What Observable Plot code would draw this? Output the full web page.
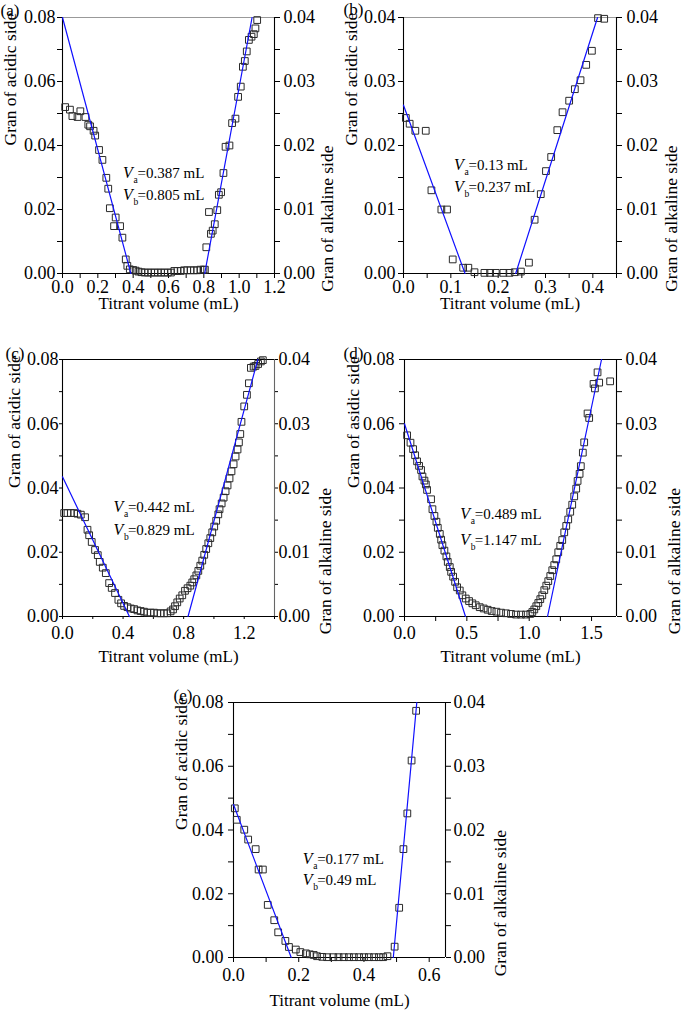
<!DOCTYPE html>
<html>
<head>
<meta charset="utf-8">
<script src="https://cdn.jsdelivr.net/npm/d3@7"></script>
<script src="https://cdn.jsdelivr.net/npm/@observablehq/plot@0.6"></script>
<style>
  html, body { margin: 0; padding: 0; background: #fff; }
  body { width: 685px; height: 1010px; position: relative; overflow: hidden; font-family: "Liberation Serif", "Times New Roman", serif; }
  .panel { position: absolute; }
  .panel svg { max-width: none !important; }
</style>
</head>
<body>
<div id="pa" class="panel" style="left:0px;top:0px"></div>
<div id="pb" class="panel" style="left:340px;top:0px"></div>
<div id="pc" class="panel" style="left:0px;top:340px"></div>
<div id="pd" class="panel" style="left:340px;top:340px"></div>
<div id="pe" class="panel" style="left:170px;top:680px"></div>
<script>
// ---------------- DATA (titrant volume mL, Gran function) ----------------
// Acidic-side points are in left-axis units; alkaline-side points are in right-axis units.
const aAcid = [[0.015,0.0520],[0.042,0.0512],[0.056,0.0492],[0.085,0.0489],[0.101,0.0507],[0.130,0.0489],[0.146,0.0465],[0.156,0.0460],[0.176,0.0446],[0.185,0.0431],[0.207,0.0386],[0.226,0.0355],[0.248,0.0299],[0.259,0.0265],[0.268,0.0204],[0.301,0.0175],[0.292,0.0148],[0.326,0.0148],[0.339,0.0112],[0.358,0.0044],[0.367,0.0024],[0.381,0.0013],[0.400,0.0011],[0.414,0.0009],[0.430,0.0006],[0.447,0.0004],[0.465,0.0003],[0.484,0.0003],[0.502,0.0003],[0.521,0.0003],[0.540,0.0003],[0.558,0.0003],[0.577,0.0003],[0.596,0.0003],[0.614,0.0003]];
const aAlk = [[0.633,0.0004],[0.651,0.0004],[0.669,0.0004],[0.688,0.0005],[0.706,0.0005],[0.725,0.0005],[0.744,0.0005],[0.762,0.0005],[0.781,0.0006],[0.798,0.0006],[0.806,0.0006],[0.814,0.0041],[0.829,0.0096],[0.840,0.0062],[0.850,0.0067],[0.862,0.0077],[0.876,0.0099],[0.885,0.0123],[0.898,0.0127],[0.911,0.0157],[0.923,0.0198],[0.945,0.0200],[0.960,0.0235],[0.979,0.0242],[0.994,0.0276],[1.009,0.0292],[1.021,0.0323],[1.032,0.0332],[1.043,0.0347],[1.055,0.0365],[1.070,0.0370],[1.083,0.0374],[1.092,0.0383],[1.102,0.0396]];
const aAcidFit = [[0, 0.080], [0.387, 0]];
const aAlkFit = [[0.805, 0], [1.073, 0.040]];

const bAcid = [[0.005,0.0243],[0.013,0.0234],[0.025,0.0223],[0.047,0.0223],[0.059,0.0130],[0.080,0.0100],[0.092,0.0100],[0.104,0.0022],[0.126,0.0009],[0.137,0.0009],[0.150,0.0002],[0.171,0.0001],[0.183,0.0001],[0.195,0.0001],[0.211,0.0001],[0.224,0.0001]];
const bAlk = [[0.235,0.0002],[0.248,0.0003],[0.265,0.0017],[0.277,0.0084],[0.290,0.0124],[0.301,0.0160],[0.312,0.0182],[0.325,0.0224],[0.336,0.0252],[0.350,0.0270],[0.362,0.0288],[0.374,0.0302],[0.386,0.0326],[0.398,0.0348],[0.411,0.0399],[0.424,0.0398]];
const bAcidFit = [[0, 0.0263], [0.130, 0]];
const bAlkFit = [[0.237, 0], [0.410, 0.040]];

const cAcid = [[0.011,0.0322],[0.033,0.0322],[0.055,0.0322],[0.077,0.0322],[0.099,0.0320],[0.121,0.0317],[0.149,0.0309],[0.165,0.0270],[0.176,0.0253],[0.193,0.0232],[0.215,0.0207],[0.233,0.0191],[0.246,0.0170],[0.266,0.0152],[0.286,0.0135],[0.308,0.0104],[0.325,0.0089],[0.347,0.0073],[0.369,0.0052],[0.387,0.0041],[0.407,0.0033],[0.429,0.0029],[0.451,0.0025],[0.473,0.0023],[0.495,0.0019],[0.516,0.0017],[0.538,0.0015],[0.560,0.0012],[0.582,0.0012],[0.604,0.0012],[0.626,0.0010],[0.648,0.0010],[0.670,0.0010],[0.692,0.0010]];
const cAlk = [[0.714,0.0008],[0.730,0.0011],[0.743,0.0016],[0.758,0.0022],[0.774,0.0028],[0.791,0.0033],[0.809,0.0040],[0.826,0.0044],[0.844,0.0048],[0.857,0.0053],[0.870,0.0058],[0.884,0.0064],[0.897,0.0071],[0.910,0.0079],[0.923,0.0087],[0.936,0.0096],[0.949,0.0105],[0.963,0.0114],[0.976,0.0122],[0.989,0.0131],[1.002,0.0140],[1.015,0.0149],[1.029,0.0159],[1.037,0.0167],[1.051,0.0176],[1.064,0.0185],[1.077,0.0195],[1.090,0.0204],[1.103,0.0215],[1.116,0.0226],[1.130,0.0237],[1.143,0.0249],[1.156,0.0260],[1.165,0.0271],[1.174,0.0284],[1.182,0.0303],[1.200,0.0327],[1.218,0.0345],[1.231,0.0363],[1.244,0.0387],[1.262,0.0389],[1.275,0.0390],[1.292,0.0393],[1.310,0.0397],[1.323,0.0399]];
const cAcidFit = [[0, 0.0435], [0.442, 0]];
const cAlkFit = [[0.829, 0], [1.290, 0.040]];

const dAcid = [[0.021,0.0564],[0.048,0.0541],[0.069,0.0521],[0.085,0.0502],[0.101,0.0483],[0.117,0.0469],[0.133,0.0456],[0.144,0.0436],[0.160,0.0423],[0.171,0.0411],[0.181,0.0394],[0.213,0.0365],[0.224,0.0334],[0.240,0.0313],[0.256,0.0295],[0.267,0.0276],[0.283,0.0257],[0.294,0.0239],[0.304,0.0222],[0.320,0.0205],[0.336,0.0187],[0.347,0.0170],[0.363,0.0154],[0.374,0.0139],[0.390,0.0124],[0.406,0.0108],[0.422,0.0091],[0.443,0.0081],[0.464,0.0066],[0.491,0.0056],[0.518,0.0048],[0.544,0.0041],[0.571,0.0035],[0.603,0.0029],[0.635,0.0025],[0.667,0.0021],[0.699,0.0017],[0.737,0.0015],[0.774,0.0012],[0.814,0.0010],[0.854,0.0008],[0.894,0.0006],[0.934,0.0006],[0.974,0.0006]];
const dAlk = [[1.009,0.0004],[1.025,0.0007],[1.041,0.0011],[1.057,0.0016],[1.073,0.0021],[1.089,0.0027],[1.105,0.0033],[1.121,0.0041],[1.137,0.0048],[1.153,0.0055],[1.169,0.0063],[1.185,0.0072],[1.201,0.0080],[1.217,0.0089],[1.233,0.0100],[1.249,0.0110],[1.265,0.0119],[1.281,0.0131],[1.297,0.0141],[1.313,0.0151],[1.329,0.0163],[1.345,0.0174],[1.361,0.0187],[1.377,0.0199],[1.388,0.0211],[1.404,0.0222],[1.414,0.0234],[1.430,0.0255],[1.441,0.0271],[1.468,0.0316],[1.481,0.0309],[1.516,0.0362],[1.527,0.0355],[1.548,0.0380],[1.561,0.0364],[1.649,0.0366]];
const dAcidFit = [[0, 0.060], [0.489, 0]];
const dAlkFit = [[1.147, 0], [1.580, 0.040]];

const eAcid = [[0.004,0.0468],[0.010,0.0432],[0.033,0.0401],[0.045,0.0370],[0.068,0.0340],[0.077,0.0276],[0.090,0.0276],[0.105,0.0165],[0.125,0.0117],[0.137,0.0079],[0.159,0.0052],[0.170,0.0033],[0.191,0.0025],[0.205,0.0017],[0.222,0.0013],[0.234,0.0010],[0.246,0.0008],[0.256,0.0004],[0.272,0.0002],[0.287,0.0001],[0.306,0.0001],[0.322,0.0001],[0.338,0.0001],[0.354,0.0001],[0.369,0.0001],[0.385,0.0001],[0.400,0.0001],[0.415,0.0001],[0.431,0.0001],[0.446,0.0001],[0.459,0.0001]];
const eAlk = [[0.472,0.0002],[0.494,0.0017],[0.508,0.0078],[0.521,0.0170],[0.533,0.0226],[0.546,0.0309],[0.560,0.0387]];
const eAcidFit = [[0, 0.048], [0.177, 0]];
const eAlkFit = [[0.490, 0], [0.562, 0.040]];

// Equivalence volumes (annotations)
const panelLetters = ["(a)", "(b)", "(c)", "(d)", "(e)"];
const vaValues = ["0.387", "0.13", "0.442", "0.489", "0.177"];
const vbValues = ["0.805", "0.237", "0.829", "1.147", "0.49"];

// Axis ticks
const aXTicks = [0,0.1,0.2,0.3,0.4,0.5,0.6,0.7,0.8,0.9,1.0,1.1,1.2];
const aXMajor = [0,0.2,0.4,0.6,0.8,1.0,1.2];
const bXTicks = [0,0.05,0.1,0.15,0.2,0.25,0.3,0.35,0.4,0.45];
const bXMajor = [0,0.1,0.2,0.3,0.4];
const cXTicks = [0,0.2,0.4,0.6,0.8,1.0,1.2,1.4];
const cXMajor = [0,0.4,0.8,1.2];
const dXTicks = [0,0.25,0.5,0.75,1.0,1.25,1.5];
const dXMajor = [0,0.5,1.0,1.5];
const eXTicks = [0,0.1,0.2,0.3,0.4,0.5,0.6];
const eXMajor = [0,0.2,0.4,0.6];
const yTicks08 = [0,0.01,0.02,0.03,0.04,0.05,0.06,0.07,0.08];
const yMajor08 = [0,0.02,0.04,0.06,0.08];
const yTicks04 = [0,0.005,0.01,0.015,0.02,0.025,0.03,0.035,0.04];
const yMajor04 = [0,0.01,0.02,0.03,0.04];

const xTitle = "Titrant volume (mL)";
const leftTitles = ["Gran of acidic side", "Gran of acidic side", "Gran of acidic side", "Gran of asidic side", "Gran of acidic side"];
const rightTitle = "Gran of alkaline side";

// ---------------- DRAWING ----------------
const near = (arr, d) => arr.some(m => Math.abs(m - d) < 1e-9);
const f1 = d3.format(".1f"), f2 = d3.format(".2f");
const BLUE = "#1010ff";
const FONT = "Liberation Serif, Times New Roman, serif";

function panel(c) {
  const r = c.ratio;
  const marks = [
    // frame
    Plot.ruleY([0], {stroke: "black", strokeWidth: 1.1}),
    Plot.ruleY([c.yMax], {stroke: c.topColor, strokeWidth: 1.1}),
    Plot.ruleX([0], {stroke: "black", strokeWidth: 1.1}),
    Plot.ruleX([c.xMax], {stroke: c.rightColor, strokeWidth: 1.1}),
    // axes
    Plot.axisX({ticks: c.xTicks, tickSize: c.tick, tickPadding: c.padB, fontSize: 18, label: null,
      tickFormat: d => near(c.xMajor, d) ? f1(d) : ""}),
    Plot.axisY({anchor: "left", ticks: c.yTicks, tickSize: c.tick, tickPadding: c.padL, fontSize: 18, label: null,
      tickFormat: d => near(c.yMajor, d) ? f2(d) : ""}),
    Plot.axisY({anchor: "right", ticks: c.rTicks.map(t => t * r), tickSize: c.tick, tickPadding: c.padR, fontSize: 18, label: null,
      tickFormat: d => near(c.rMajor, d / r) ? f2(d / r) : ""}),
    // data
    Plot.dot(c.acid, {x: d => d[0], y: d => d[1], symbol: "square", r: 3.8, stroke: "#2a2a2a", strokeWidth: 1, fill: "none"}),
    Plot.dot(c.alk, {x: d => d[0], y: d => d[1] * r, symbol: "square", r: 3.8, stroke: "#2a2a2a", strokeWidth: 1, fill: "none"}),
    Plot.line(c.acidFit, {x: d => d[0], y: d => d[1], stroke: BLUE, strokeWidth: 1.2}),
    Plot.line(c.alkFit, {x: d => d[0], y: d => d[1] * r, stroke: BLUE, strokeWidth: 1.2}),
    // annotation lines: V (italic) + subscript + value
    Plot.text([{x: c.annX, y: c.annY1}, {x: c.annX, y: c.annY2}], {x: "x", y: "y", text: () => "V", fontStyle: "italic", fontSize: 16, textAnchor: "start", lineAnchor: "bottom"}),
    Plot.text([{x: c.annX, y: c.annY1, t: "a"}, {x: c.annX, y: c.annY2, t: "b"}], {x: "x", y: "y", text: "t", fontSize: 9.5, textAnchor: "start", lineAnchor: "bottom", dx: 10.5, dy: 5}),
    Plot.text([{x: c.annX, y: c.annY1, t: "=" + c.va + " mL"}, {x: c.annX, y: c.annY2, t: "=" + c.vb + " mL"}], {x: "x", y: "y", text: "t", fontSize: 15, textAnchor: "start", lineAnchor: "bottom", dx: 14.5}),
    // titles
    Plot.text([xTitle], {text: d => d, frameAnchor: "bottom", dy: c.xTitleDy, fontSize: 17, lineAnchor: "middle"}),
    Plot.text([c.leftTitle], {text: d => d, frameAnchor: "left", rotate: -90, dx: c.lTitleDx, fontSize: 17.5, lineAnchor: "middle"}),
    Plot.text([rightTitle], {text: d => d, frameAnchor: "right", rotate: -90, dx: c.rTitleDx, fontSize: 17.5, lineAnchor: "middle"}),
    Plot.text([c.letter], {text: d => d, frameAnchor: "top-left", dx: c.letterDx, dy: c.letterDy, fontSize: 17, textAnchor: "start", lineAnchor: "bottom"})
  ];
  return Plot.plot({
    width: c.width, height: c.height,
    marginLeft: c.ml, marginRight: c.mr, marginTop: c.mt, marginBottom: c.mb,
    x: {domain: [0, c.xMax]},
    y: {domain: [0, c.yMax]},
    style: {fontFamily: FONT, fontSize: "18px", color: "black", background: "white", overflow: "visible"},
    marks
  });
}

const base08 = {yMax: 0.08, yTicks: yTicks08, yMajor: yMajor08, rTicks: yTicks04, rMajor: yMajor04, ratio: 2};

const configs = [
  {id: "pa", ...base08, width: 340, height: 320, ml: 62, mr: 66, mt: 17, mb: 47,
   xMax: 1.2, xTicks: aXTicks, xMajor: aXMajor, acid: aAcid, alk: aAlk, acidFit: aAcidFit, alkFit: aAlkFit,
   annX: 0.343, annY1: 0.0297, annY2: 0.0231, tick: 5, padL: 2, padR: 4, padB: 2,
   topColor: "#999", rightColor: "black", xTitleDy: 30, lTitleDx: -52, rTitleDx: 53, letterDx: -62, letterDy: -2, idx: 0},
  {id: "pb", yMax: 0.04, yTicks: yTicks04, yMajor: yMajor04, rTicks: yTicks04, rMajor: yMajor04, ratio: 1,
   width: 345, height: 320, ml: 63, mr: 69, mt: 17, mb: 47,
   xMax: 0.45, xTicks: bXTicks, xMajor: bXMajor, acid: bAcid, alk: bAlk, acidFit: bAcidFit, alkFit: bAlkFit,
   annX: 0.1066, annY1: 0.0162, annY2: 0.0128, tick: 5, padL: 3, padR: 5, padB: 2,
   topColor: "#999", rightColor: "black", xTitleDy: 30, lTitleDx: -52, rTitleDx: 55, letterDx: -60, letterDy: -3, idx: 1},
  {id: "pc", ...base08, width: 340, height: 330, ml: 62, mr: 66, mt: 19, mb: 54,
   xMax: 1.4, xTicks: cXTicks, xMajor: cXMajor, acid: cAcid, alk: cAlk, acidFit: cAcidFit, alkFit: cAlkFit,
   annX: 0.336, annY1: 0.0324, annY2: 0.0255, tick: 3, padL: 1, padR: 1, padB: 7,
   topColor: "black", rightColor: "#666", xTitleDy: 40, lTitleDx: -48, rTitleDx: 51, letterDx: -57, letterDy: -1, idx: 2},
  {id: "pd", ...base08, width: 345, height: 330, ml: 64, mr: 69, mt: 19, mb: 54,
   xMax: 1.7, xTicks: dXTicks, xMajor: dXMajor, acid: dAcid, alk: dAlk, acidFit: dAcidFit, alkFit: dAlkFit,
   annX: 0.448, annY1: 0.0303, annY2: 0.0222, tick: 5, padL: 5, padR: 4, padB: 5,
   topColor: "black", rightColor: "black", xTitleDy: 40, lTitleDx: -51, rTitleDx: 58, letterDx: -61, letterDy: -1, idx: 3},
  {id: "pe", ...base08, width: 345, height: 330, ml: 63, mr: 70, mt: 22, mb: 53,
   xMax: 0.65, xTicks: eXTicks, xMajor: eXMajor, acid: eAcid, alk: eAlk, acidFit: eAcidFit, alkFit: eAlkFit,
   annX: 0.212, annY1: 0.0294, annY2: 0.0228, tick: 5, padL: 5, padR: 3, padB: 6,
   topColor: "black", rightColor: "black", xTitleDy: 43, lTitleDx: -52, rTitleDx: 55, letterDx: -60, letterDy: -2, idx: 4}
];

for (const c of configs) {
  c.letter = panelLetters[c.idx];
  c.va = vaValues[c.idx];
  c.vb = vbValues[c.idx];
  c.leftTitle = leftTitles[c.idx];
  document.getElementById(c.id).appendChild(panel(c));
}
</script>
</body>
</html>
